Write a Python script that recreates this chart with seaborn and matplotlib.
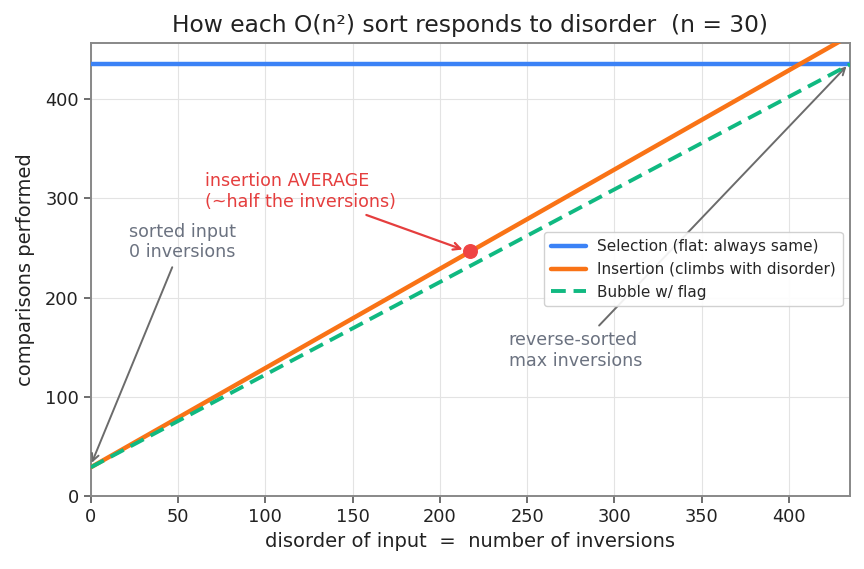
import matplotlib
matplotlib.use("Agg")
import matplotlib.pyplot as plt
import seaborn as sns
import pandas as pd

# data (n = 30, max inversions = 435)
inversions = [0, 435]
selection = [435, 435]
insertion = [29, 464]
bubble = [29, 435]
avg_inv = [217.5]
avg_cmp = [246.5]

labels = ["Selection (flat: always same)",
          "Insertion (climbs with disorder)",
          "Bubble w/ flag"]
colors = ["#3b82f6", "#f97316", "#10b981"]

sns.set_theme(style="ticks")
plt.rcParams['font.family'] = ['DejaVu Sans']

fig, ax = plt.subplots(figsize=(8.64, 5.69), dpi=100)

df_sel = pd.DataFrame({"x": inversions, "y": selection})
df_ins = pd.DataFrame({"x": inversions, "y": insertion})
df_bub = pd.DataFrame({"x": inversions, "y": bubble})

sns.lineplot(data=df_sel, x="x", y="y", ax=ax, color=colors[0], lw=3.2, label=labels[0], zorder=3)
sns.lineplot(data=df_ins, x="x", y="y", ax=ax, color=colors[1], lw=3.2, label=labels[1], zorder=3)
sns.lineplot(data=df_bub, x="x", y="y", ax=ax, color=colors[2], lw=2.8, label=labels[2], zorder=4)
ax.lines[-1].set_linestyle((0, (3.8, 2)))

ax.scatter(avg_inv, avg_cmp, s=95, color="#ef4444", zorder=5)

ax.set_xlim(0, 435)
ax.set_ylim(0, 456.75)
ax.set_xticks([0, 50, 100, 150, 200, 250, 300, 350, 400])
ax.set_yticks([0, 100, 200, 300, 400])
ax.grid(True, color="#e3e3e3", lw=0.8)
ax.set_axisbelow(True)
for s in ax.spines.values():
    s.set_color("#888888")
    s.set_linewidth(1.4)
ax.tick_params(colors="#222222", labelsize=12.8, length=5, width=1.2, color="#555555")

ax.set_title("How each O(n²) sort responds to disorder  (n = 30)", fontsize=16.8, color="#222222", pad=8)
ax.set_xlabel("disorder of input  =  number of inversions", fontsize=14, color="#222222")
ax.set_ylabel("comparisons performed", fontsize=14, color="#222222", labelpad=7)

ax.annotate("sorted input\n0 inversions", xy=(0, 31), xytext=(22, 256),
            ha="left", va="center", fontsize=12.6, color="#6b7280",
            arrowprops=dict(arrowstyle="->", color="#6b6b6b", lw=1.4))
ax.annotate("insertion AVERAGE\n(~half the inversions)", xy=(avg_inv[0] - 3, avg_cmp[0] + 1),
            xytext=(65.5, 307), ha="left", va="center", fontsize=12.6, color="#e53e3e",
            arrowprops=dict(arrowstyle="->", color="#e53e3e", lw=1.6))
ax.annotate("reverse-sorted\nmax inversions", xy=(434, 435), xytext=(239.5, 147),
            ha="left", va="center", fontsize=12.6, color="#6b7280",
            arrowprops=dict(arrowstyle="->", color="#6b6b6b", lw=1.4))

leg = ax.legend(loc="center right", fontsize=11, frameon=True, framealpha=0.9,
                borderpad=0.45, handlelength=2.3, handletextpad=0.7, labelspacing=0.5)
leg.get_frame().set_edgecolor("#cccccc")

fig.subplots_adjust(left=0.105, right=0.984, top=0.925, bottom=0.128)
fig.savefig("out.png", dpi=100)
